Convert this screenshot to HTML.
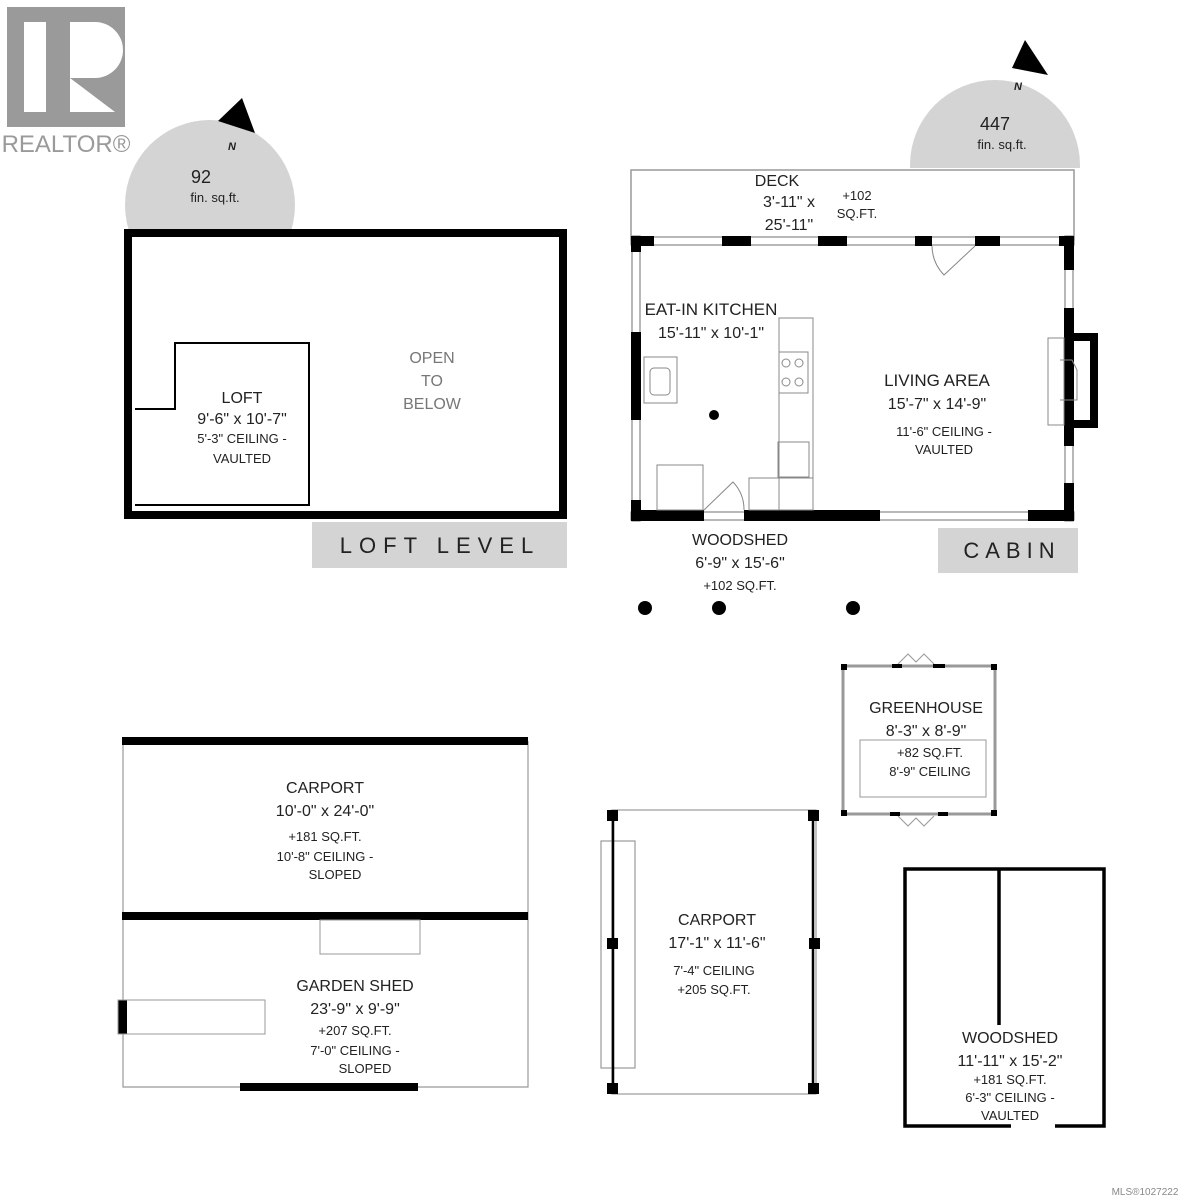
<!DOCTYPE html>
<html><head><style>body{margin:0;background:#fff}svg{display:block}text{font-family:"Liberation Sans",sans-serif;fill:#222;text-anchor:middle}</style></head><body>
<svg width="1188" height="1200" viewBox="0 0 1188 1200">
<rect x="7" y="7" width="118" height="120" fill="#9a9a9a"/>
<rect x="24" y="22" width="22" height="90" fill="#fff"/>
<path d="M70 22 H95 A28 28 0 0 1 95 78 H70 Z M70 78 L115 112 H70Z" fill="#fff"/>
<text x="66" y="152" font-size="24" style="fill:#9a9a9a">REALTOR®</text>
<defs><clipPath id="c1"><rect x="0" y="0" width="600" height="229"/></clipPath><clipPath id="c2"><rect x="800" y="0" width="388" height="168"/></clipPath></defs>
<circle cx="210" cy="205" r="85" fill="#d4d4d4" clip-path="url(#c1)"/>
<polygon points="218,121 242,98 255,133" fill="#000"/>
<text x="232" y="150" font-size="11" font-style="italic" font-weight="bold">N</text>
<text x="201" y="183" font-size="18">92</text>
<text x="215" y="202" font-size="13">fin. sq.ft.</text>
<circle cx="995" cy="165" r="85" fill="#d4d4d4" clip-path="url(#c2)"/>
<polygon points="1012,68 1025,40 1048,75" fill="#000"/>
<text x="1018" y="90" font-size="11" font-style="italic" font-weight="bold">N</text>
<text x="995" y="130" font-size="18">447</text>
<text x="1002" y="149" font-size="13">fin. sq.ft.</text>
<!-- loft -->
<rect x="128" y="233" width="435" height="282" fill="none" stroke="#000" stroke-width="8"/>
<path d="M135 409 H175 V343 H309 V505 H135" fill="none" stroke="#000" stroke-width="2"/>
<text x="432" y="363" font-size="16" style="fill:#777">OPEN</text>
<text x="432" y="386" font-size="16" style="fill:#777">TO</text>
<text x="432" y="409" font-size="16" style="fill:#777">BELOW</text>
<text x="242" y="403" font-size="16">LOFT</text>
<text x="242" y="424" font-size="16">9'-6" x 10'-7"</text>
<text x="242" y="443" font-size="13">5'-3" CEILING -</text>
<text x="242" y="463" font-size="13">VAULTED</text>
<rect x="312" y="522" width="255" height="46" fill="#d4d4d4"/>
<text x="440" y="553" font-size="22" letter-spacing="7">LOFT LEVEL</text>
<!-- cabin -->
<rect x="631" y="170" width="443" height="70" fill="none" stroke="#999" stroke-width="1.5"/>
<g fill="none" stroke="#888" stroke-width="1.2">
<rect x="631" y="237" width="443" height="8"/><rect x="632" y="236" width="8" height="285"/><rect x="1065" y="236" width="8" height="285"/><rect x="631" y="512" width="443" height="8"/>
</g>
<rect x="634" y="239" width="428" height="4" fill="#fff"/><rect x="1064" y="240" width="9" height="0" fill="#fff"/>
<g fill="#000">
<rect x="631" y="236" width="23" height="10"/><rect x="722" y="236" width="29" height="10"/><rect x="818" y="236" width="29" height="10"/><rect x="915" y="236" width="17" height="10"/><rect x="975" y="236" width="25" height="10"/><rect x="1059" y="236" width="15" height="10"/>
<rect x="631" y="236" width="10" height="16"/><rect x="631" y="332" width="10" height="88"/><rect x="631" y="500" width="10" height="21"/>
<rect x="1064" y="236" width="10" height="34"/><rect x="1064" y="308" width="10" height="138"/><rect x="1064" y="483" width="10" height="38"/>
<rect x="631" y="510" width="73" height="11"/><rect x="744" y="510" width="136" height="11"/><rect x="1028" y="510" width="46" height="11"/>
<rect x="1064" y="333" width="34" height="95"/>
<circle cx="714" cy="415" r="5"/>
</g>
<rect x="934" y="246" width="40" height="4" fill="#fff"/>
<rect x="1074" y="341" width="16" height="79" fill="#fff"/>
<g fill="none" stroke="#888" stroke-width="1">
<rect x="1048" y="338" width="16" height="87"/><path d="M1060 360 h12 l5 10 v30 h-17"/>
<path d="M932 246 A43 43 0 0 0 944 275 L975 246"/>
<path d="M704 510 L733 482 A40 40 0 0 1 744 510"/>
<rect x="779" y="318" width="34" height="192"/><rect x="779" y="352" width="29" height="41"/>
<circle cx="786" cy="363" r="4"/><circle cx="799" cy="363" r="4"/><circle cx="786" cy="382" r="4"/><circle cx="799" cy="382" r="4"/>
<rect x="778" y="442" width="31" height="35"/><rect x="749" y="478" width="64" height="32"/>
<rect x="644" y="357" width="33" height="46"/><rect x="650" y="368" width="20" height="27" rx="4"/>
<rect x="657" y="465" width="46" height="45"/>
</g>
<text x="777" y="186" font-size="16">DECK</text>
<text x="789" y="207" font-size="16">3'-11" x</text>
<text x="789" y="230" font-size="16">25'-11"</text>
<text x="857" y="200" font-size="13">+102</text>
<text x="857" y="218" font-size="13">SQ.FT.</text>
<text x="711" y="315" font-size="17">EAT-IN KITCHEN</text>
<text x="711" y="338" font-size="16">15'-11" x 10'-1"</text>
<text x="937" y="386" font-size="17">LIVING AREA</text>
<text x="937" y="409" font-size="16">15'-7" x 14'-9"</text>
<text x="944" y="436" font-size="13">11'-6" CEILING -</text>
<text x="944" y="454" font-size="13">VAULTED</text>
<text x="740" y="545" font-size="16">WOODSHED</text>
<text x="740" y="568" font-size="16">6'-9" x 15'-6"</text>
<text x="740" y="590" font-size="13">+102 SQ.FT.</text>
<rect x="938" y="528" width="140" height="45" fill="#d4d4d4"/>
<text x="1012" y="558" font-size="22" letter-spacing="6">CABIN</text>
<circle cx="645" cy="608" r="7"/><circle cx="719" cy="608" r="7"/><circle cx="853" cy="608" r="7"/>
<!-- greenhouse -->
<rect x="843" y="666" width="152" height="148" fill="none" stroke="#999" stroke-width="3"/>
<rect x="860" y="740" width="126" height="57" fill="none" stroke="#999" stroke-width="1"/>
<path d="M898 664 l10 -10 l8 8 l8 -8 l10 10 M898 816 l10 10 l8 -8 l8 8 l10 -10" fill="none" stroke="#999"/>
<g fill="#000"><rect x="841" y="664" width="6" height="6"/><rect x="991" y="664" width="6" height="6"/><rect x="841" y="810" width="6" height="6"/><rect x="991" y="810" width="6" height="6"/><rect x="892" y="664" width="10" height="4"/><rect x="933" y="664" width="12" height="4"/><rect x="890" y="812" width="10" height="4"/><rect x="938" y="812" width="10" height="4"/></g>
<text x="926" y="713" font-size="16">GREENHOUSE</text>
<text x="926" y="736" font-size="16">8'-3" x 8'-9"</text>
<text x="930" y="757" font-size="13">+82 SQ.FT.</text>
<text x="930" y="776" font-size="13">8'-9" CEILING</text>
<!-- carport 2 -->
<rect x="612" y="810" width="204" height="284" fill="none" stroke="#999" stroke-width="1.2"/>
<rect x="601" y="841" width="34" height="227" fill="none" stroke="#999" stroke-width="1.2"/>
<path d="M613 810 V1094 M813 810 V1094" stroke="#000" stroke-width="2.5"/>
<g fill="#000"><rect x="607" y="810" width="11" height="11"/><rect x="808" y="810" width="11" height="11"/><rect x="607" y="938" width="11" height="11"/><rect x="809" y="938" width="11" height="11"/><rect x="607" y="1083" width="11" height="11"/><rect x="808" y="1083" width="11" height="11"/></g>
<text x="717" y="925" font-size="16">CARPORT</text>
<text x="717" y="948" font-size="16">17'-1" x 11'-6"</text>
<text x="714" y="975" font-size="13">7'-4" CEILING</text>
<text x="714" y="994" font-size="13">+205 SQ.FT.</text>
<!-- woodshed -->
<path d="M1011 1126 H905 V869 H1104 V1126 H1055 M999 869 V1025" fill="none" stroke="#000" stroke-width="3.5"/>
<text x="1010" y="1043" font-size="16">WOODSHED</text>
<text x="1010" y="1066" font-size="16">11'-11" x 15'-2"</text>
<text x="1010" y="1084" font-size="13">+181 SQ.FT.</text>
<text x="1010" y="1102" font-size="13">6'-3" CEILING -</text>
<text x="1010" y="1120" font-size="13">VAULTED</text>
<!-- carport 1 / garden shed -->
<path d="M123 741 V1087 H528 V741" fill="none" stroke="#999" stroke-width="1.2"/>
<g fill="#000"><rect x="122" y="737" width="406" height="8"/><rect x="122" y="912" width="406" height="8"/><rect x="240" y="1083" width="178" height="8"/><rect x="118" y="1000" width="9" height="34"/></g>
<rect x="320" y="920" width="100" height="34" fill="none" stroke="#999"/>
<rect x="118" y="1000" width="147" height="34" fill="none" stroke="#999"/>
<text x="325" y="793" font-size="16">CARPORT</text>
<text x="325" y="816" font-size="16">10'-0" x 24'-0"</text>
<text x="325" y="841" font-size="13">+181 SQ.FT.</text>
<text x="325" y="861" font-size="13">10'-8" CEILING -</text>
<text x="335" y="879" font-size="13">SLOPED</text>
<text x="355" y="991" font-size="16">GARDEN SHED</text>
<text x="355" y="1014" font-size="16">23'-9" x 9'-9"</text>
<text x="355" y="1035" font-size="13">+207 SQ.FT.</text>
<text x="355" y="1055" font-size="13">7'-0" CEILING -</text>
<text x="365" y="1073" font-size="13">SLOPED</text>
<text x="1145" y="1195" font-size="10" style="fill:#888">MLS®1027222</text>
</svg>
</body></html>
